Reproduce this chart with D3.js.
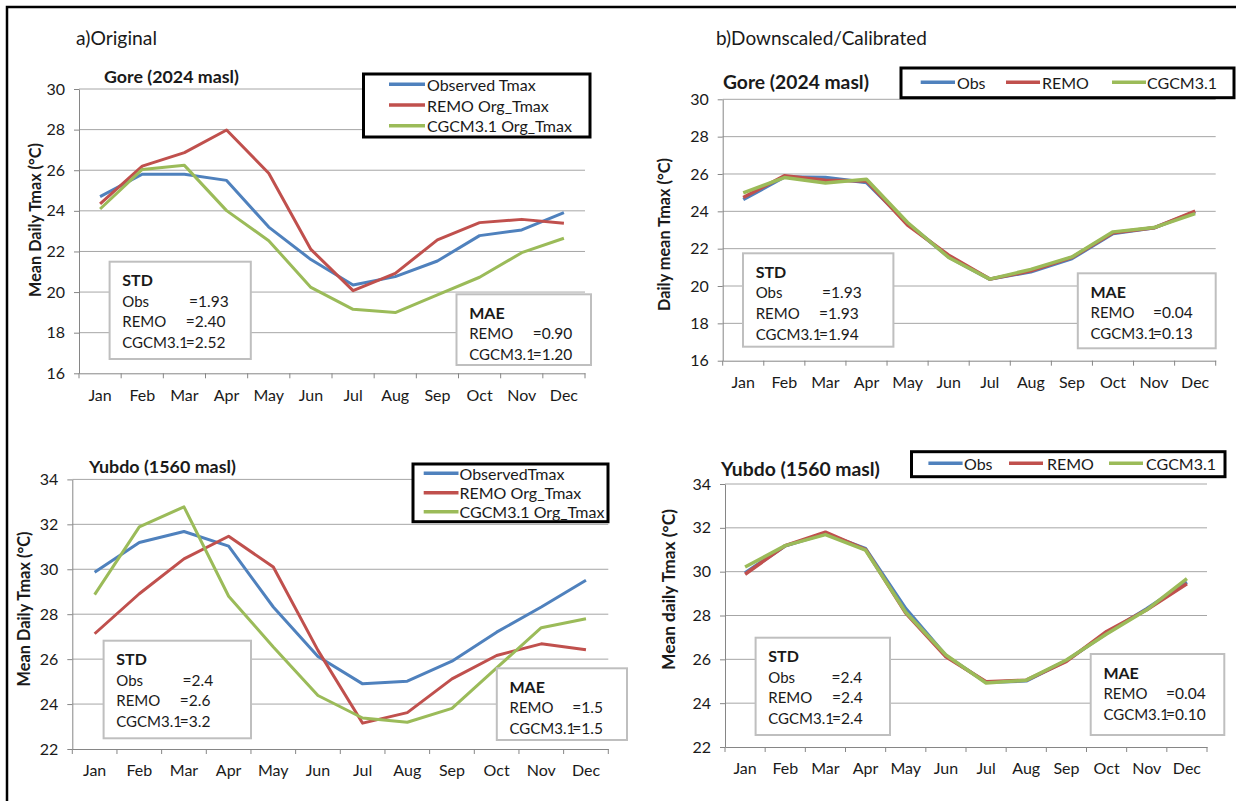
<!DOCTYPE html>
<html>
<head>
<meta charset="utf-8">
<script src="https://cdn.jsdelivr.net/npm/d3@7/dist/d3.min.js"></script>
<style>
  body { margin: 0; background: #fff; }
  svg { display: block; }
  text { font-family: Lato, "Open Sans", "DejaVu Sans", sans-serif; fill: #1a1a1a; }
</style>
</head>
<body>
<svg id="chart" width="1236" height="801"></svg>
<script>
// ---------- data ----------
const months = ["Jan","Feb","Mar","Apr","May","Jun","Jul","Aug","Sep","Oct","Nov","Dec"];

// Gore (2024 masl), original model output, mean daily Tmax (°C)
const goreObsOrig  = [24.7, 25.8, 25.8, 25.5, 23.2, 21.6, 20.35, 20.76, 21.53, 22.78, 23.06, 23.91];
const goreRemoOrig = [24.34, 26.2, 26.87, 27.98, 25.85, 22.1, 20.07, 20.92, 22.57, 23.42, 23.58, 23.39];
const goreCgcmOrig = [24.09, 26.04, 26.24, 24.01, 22.53, 20.23, 19.15, 18.99, 19.86, 20.73, 21.94, 22.65];

// Gore (2024 masl), downscaled / calibrated
const goreObsCal  = [24.63, 25.84, 25.81, 25.54, 23.35, 21.56, 20.37, 20.76, 21.47, 22.81, 23.12, 23.97];
const goreRemoCal = [24.74, 25.9, 25.67, 25.63, 23.26, 21.65, 20.37, 20.81, 21.53, 22.85, 23.12, 24.01];
const goreCgcmCal = [24.99, 25.81, 25.52, 25.72, 23.4, 21.53, 20.37, 20.89, 21.56, 22.9, 23.13, 23.88];

// Yubdo (1560 masl), original model output
const yubdoObsOrig  = [29.87, 31.19, 31.68, 31.03, 28.32, 26.12, 24.9, 25.02, 25.91, 27.2, 28.32, 29.51];
const yubdoRemoOrig = [27.13, 28.91, 30.46, 31.47, 30.1, 26.39, 23.15, 23.62, 25.12, 26.16, 26.68, 26.42];
const yubdoCgcmOrig = [28.87, 31.89, 32.78, 28.8, 26.54, 24.38, 23.38, 23.19, 23.81, 25.61, 27.4, 27.8];

// Yubdo (1560 masl), downscaled / calibrated
const yubdoObsCal  = [29.94, 31.18, 31.74, 31.05, 28.31, 26.17, 24.95, 25.02, 25.94, 27.19, 28.31, 29.53];
const yubdoRemoCal = [29.88, 31.19, 31.8, 31.01, 28.11, 26.12, 24.98, 25.05, 25.91, 27.27, 28.26, 29.45];
const yubdoCgcmCal = [30.21, 31.19, 31.69, 30.98, 28.15, 26.2, 24.92, 25.05, 25.97, 27.16, 28.26, 29.68];

// axis ticks
const goreTicks  = [16, 18, 20, 22, 24, 26, 28, 30];
const yubdoTicks = [22, 24, 26, 28, 30, 32, 34];

// legend labels
const legendOrigGore  = ["Observed Tmax", "REMO Org_Tmax", "CGCM3.1 Org_Tmax"];
const legendOrigYubdo = ["ObservedTmax", "REMO Org_Tmax", "CGCM3.1 Org_Tmax"];
const legendCal       = ["Obs", "REMO", "CGCM3.1"];

// statistics shown in the boxes
const statLabels = ["Obs", "REMO", "CGCM3.1"];
const stdGoreOrig  = ["1.93", "2.40", "2.52"];
const stdGoreCal   = ["1.93", "1.93", "1.94"];
const stdYubdoOrig = ["2.4", "2.6", "3.2"];
const stdYubdoCal  = ["2.4", "2.4", "2.4"];
const maeLabels = ["REMO", "CGCM3.1"];
const maeGoreOrig  = ["0.90", "1.20"];
const maeGoreCal   = ["0.04", "0.13"];
const maeYubdoOrig = ["1.5", "1.5"];
const maeYubdoCal  = ["0.04", "0.10"];

// ---------- styling ----------
const colors = ["#4f81bd", "#c0504d", "#9bbb59"];
const FONT = 15;

const svg = d3.select("#chart");

// outer frame
svg.append("rect")
  .attr("x", 7).attr("y", 7).attr("width", 1300).attr("height", 900)
  .attr("fill", "none").attr("stroke", "#000").attr("stroke-width", 2.5);

// scales text so that it spans a given width
function fitWidth(sel, width) {
  sel.each(function () {
    const fs = parseFloat(d3.select(this).style("font-size"));
    const w = this.getComputedTextLength();
    if (w > 0) d3.select(this).style("font-size", (fs * width / w).toFixed(2) + "px");
  });
  return sel;
}

svg.append("text").attr("x", 76).attr("y", 37).attr("dominant-baseline", "central")
  .style("font-size", "16px").text("a)Original").call(fitWidth, 81);
svg.append("text").attr("x", 716).attr("y", 37).attr("dominant-baseline", "central")
  .style("font-size", "16px").text("b)Downscaled/Calibrated").call(fitWidth, 211);

const panels = [
  {
    area: { x0: 79, x1: 585, yTop: 89, yBot: 373.3 }, domain: [16, 30], ticks: goreTicks,
    series: [goreObsOrig, goreRemoOrig, goreCgcmOrig], lineWidth: 3,
    title: { text: "Gore (2024 masl)", x: 104, y: 76, w: 135 },
    yTitle: { text: "Mean Daily Tmax (°C)", x: 34, y: 220, w: 154 },
    legend: { kind: "column", labels: legendOrigGore, box: [363.5, 74, 590, 137],
              rows: [84.3, 105, 125.7], line: [389, 425], textX: 427 },
    std: { box: [109.6, 261.7, 250.8, 359], values: stdGoreOrig, eqObs: 79.4, eq: 76.2 },
    mae: { box: [456.5, 294.3, 591, 365], values: maeGoreOrig, eq: 76.2 }
  },
  {
    area: { x0: 722.7, x1: 1215.7, yTop: 99.3, yBot: 360.7 }, domain: [16, 30], ticks: goreTicks,
    series: [goreObsCal, goreRemoCal, goreCgcmCal], lineWidth: 3.5,
    title: { text: "Gore (2024 masl)", x: 723, y: 81.7, w: 146 },
    yTitle: { text: "Daily mean Tmax (°C)", x: 663, y: 234.5, w: 153 },
    legend: { kind: "row", labels: legendCal, box: [901, 68, 1234, 97.7], y: 82.3,
              items: [[920.7, 955, 957], [1006, 1040, 1042], [1112, 1146, 1147]] },
    std: { box: [743, 253.3, 893.4, 346.7], values: stdGoreCal, eqObs: 79, eq: 76 },
    mae: { box: [1077.8, 273.3, 1215.7, 348.3], values: maeGoreCal, eq: 75.2 }
  },
  {
    area: { x0: 72.3, x1: 608.3, yTop: 479.4, yBot: 749 }, domain: [22, 34], ticks: yubdoTicks,
    series: [yubdoObsOrig, yubdoRemoOrig, yubdoCgcmOrig], lineWidth: 3,
    title: { text: "Yubdo (1560 masl)", x: 89, y: 466, w: 147 },
    yTitle: { text: "Mean Daily Tmax (°C)", x: 23.7, y: 609, w: 155 },
    legend: { kind: "column", labels: legendOrigYubdo, box: [413, 464, 608, 521.7],
              rows: [473.3, 492.7, 511.7], line: [423.7, 458.5], textX: 459.5 },
    std: { box: [103.6, 640.7, 251, 738.3], values: stdYubdoOrig, eqObs: 79, eq: 76.2 },
    mae: { box: [496.8, 668.3, 627, 740], values: maeYubdoOrig, eq: 75.5 }
  },
  {
    area: { x0: 725, x1: 1207, yTop: 484, yBot: 747 }, domain: [22, 34], ticks: yubdoTicks,
    series: [yubdoObsCal, yubdoRemoCal, yubdoCgcmCal], lineWidth: 3.5,
    title: { text: "Yubdo (1560 masl)", x: 721, y: 468, w: 159 },
    yTitle: { text: "Mean daily Tmax (°C)", x: 668, y: 589.5, w: 161 },
    legend: { kind: "row", labels: legendCal, box: [911.5, 451.7, 1225, 476.7], y: 463.3,
              items: [[928.4, 962.6, 964], [1009, 1043, 1047], [1109, 1143, 1146]] },
    std: { box: [755.6, 637.7, 890, 735], values: stdYubdoCal, eqObs: 76, eq: 76.4 },
    mae: { box: [1090.7, 654, 1224.3, 735], values: maeYubdoCal, eq: 75.3 }
  }
];

function drawPanel(p) {
  const g = svg.append("g");
  const a = p.area;
  const x = d3.scaleBand().domain(months).range([a.x0, a.x1]);
  const y = d3.scaleLinear().domain(p.domain).range([a.yBot, a.yTop]);
  const cx = m => x(m) + x.bandwidth() / 2;

  // horizontal gridlines
  g.append("g").selectAll("line").data(p.ticks.slice(1)).join("line")
    .attr("x1", a.x0).attr("x2", a.x1)
    .attr("y1", d => y(d)).attr("y2", d => y(d))
    .attr("stroke", "#a6a6a6").attr("stroke-width", 1);

  // y axis
  const yAxis = g.append("g").attr("transform", `translate(${a.x0},0)`)
    .call(d3.axisLeft(y).tickValues(p.ticks).tickSize(5).tickSizeOuter(0).tickPadding(9));
  yAxis.select(".domain").attr("stroke", "#868686");
  yAxis.selectAll(".tick line").attr("stroke", "#868686");
  yAxis.selectAll(".tick text").style("font-size", FONT + 1 + "px")
    .style("font-family", "Lato, sans-serif").attr("fill", "#1a1a1a");

  // x axis: labels centred in each month, ticks on month boundaries
  const xAxis = g.append("g").attr("transform", `translate(0,${a.yBot})`)
    .call(d3.axisBottom(x).tickSize(0).tickPadding(16).tickSizeOuter(0));
  xAxis.select(".domain").attr("stroke", "#868686");
  xAxis.selectAll(".tick text").style("font-size", FONT + 1 + "px")
    .style("font-family", "Lato, sans-serif").attr("fill", "#1a1a1a");
  const bounds = months.map(m => x(m)).concat([a.x1]);
  g.append("g").selectAll("line").data(bounds).join("line")
    .attr("x1", d => d).attr("x2", d => d)
    .attr("y1", a.yBot).attr("y2", a.yBot + 5)
    .attr("stroke", "#868686");

  // series lines
  const line = d3.line().x((d, i) => cx(months[i])).y(d => y(d));
  p.series.forEach((s, i) => {
    g.append("path").datum(s).attr("d", line)
      .attr("fill", "none").attr("stroke", colors[i])
      .attr("stroke-width", p.lineWidth).attr("stroke-linejoin", "round");
  });

  // station title
  g.append("text").attr("x", p.title.x).attr("y", p.title.y)
    .attr("dominant-baseline", "central")
    .style("font-size", "16px").style("font-weight", "bold")
    .text(p.title.text).call(fitWidth, p.title.w);

  // y-axis title
  g.append("text")
    .attr("transform", `translate(${p.yTitle.x},${p.yTitle.y}) rotate(-90)`)
    .attr("text-anchor", "middle").attr("dominant-baseline", "central")
    .style("font-size", "15px").style("font-weight", "bold")
    .text(p.yTitle.text).call(fitWidth, p.yTitle.w);

  // legend
  const L = p.legend;
  g.append("rect").attr("x", L.box[0]).attr("y", L.box[1])
    .attr("width", L.box[2] - L.box[0]).attr("height", L.box[3] - L.box[1])
    .attr("fill", "#fff").attr("stroke", "#000").attr("stroke-width", 3);
  L.labels.forEach((lab, i) => {
    const ly = L.kind === "column" ? L.rows[i] : L.y;
    const x1 = L.kind === "column" ? L.line[0] : L.items[i][0];
    const x2 = L.kind === "column" ? L.line[1] : L.items[i][1];
    const tx = L.kind === "column" ? L.textX : L.items[i][2];
    g.append("line").attr("x1", x1).attr("x2", x2).attr("y1", ly).attr("y2", ly)
      .attr("stroke", colors[i]).attr("stroke-width", 3.5);
    g.append("text").attr("x", tx).attr("y", ly).attr("dominant-baseline", "central")
      .style("font-size", FONT + 1 + "px").text(lab);
  });

  // statistics boxes
  function statBox(cfg, head, labels, values, eqFirst) {
    const [bx0, by0, bx1, by1] = cfg.box;
    g.append("rect").attr("x", bx0).attr("y", by0)
      .attr("width", bx1 - bx0).attr("height", by1 - by0)
      .attr("fill", "#fff").attr("stroke", "#bfbfbf").attr("stroke-width", 2);
    g.append("text").attr("x", bx0 + 12.7).attr("y", by0 + 18.2)
      .attr("dominant-baseline", "central")
      .style("font-size", FONT + 1 + "px").style("font-weight", "bold").text(head);
    labels.forEach((lab, i) => {
      const ty = by0 + 39 + i * 20.7;
      g.append("text").attr("x", bx0 + 12.7).attr("y", ty)
        .attr("dominant-baseline", "central").style("font-size", FONT + "px").text(lab);
      const ex = (i === 0 && eqFirst != null) ? eqFirst : cfg.eq;
      g.append("text").attr("x", bx0 + ex).attr("y", ty)
        .attr("dominant-baseline", "central").style("font-size", FONT + 0.5 + "px")
        .text("=" + values[i]);
    });
  }
  statBox(p.std, "STD", statLabels, p.std.values, p.std.eqObs);
  statBox(p.mae, "MAE", maeLabels, p.mae.values, null);
}

panels.forEach(drawPanel);
</script>
</body>
</html>
